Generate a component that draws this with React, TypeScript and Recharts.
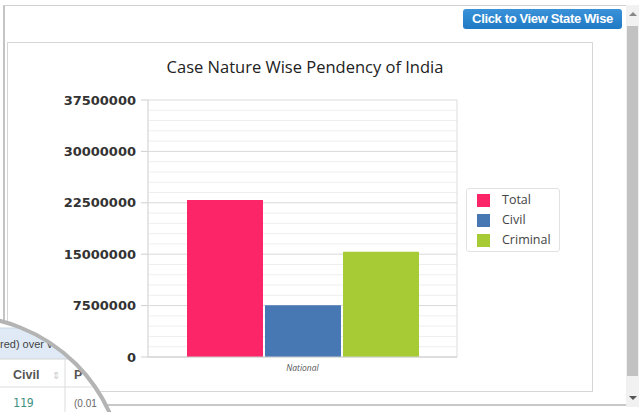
import React from 'react';
import { BarChart, Bar, XAxis, YAxis, CartesianGrid } from 'recharts';

const categories = ['National'];
const totalValues = [22900000];
const civilValues = [7550000];
const criminalValues = [15350000];
const yTicks = [0, 7500000, 15000000, 22500000, 30000000, 37500000];

const series = [
  { key: 'Total', color: '#fb2568', values: totalValues },
  { key: 'Civil', color: '#4878b4', values: civilValues },
  { key: 'Criminal', color: '#a6cb34', values: criminalValues },
];

const chartData = categories.map((name, i) => ({
  name,
  Total: totalValues[i],
  Civil: civilValues[i],
  Criminal: criminalValues[i],
}));

// light lines between the labelled ticks
const minorStep = 1500000;
const minorLines: number[] = [];
for (let v = minorStep; v < 37500000; v += minorStep) {
  if (v % 7500000 !== 0) minorLines.push(v);
}

const Magnifier = () => (
  <svg width={220} height={140} style={{ position: 'absolute', left: 0, top: 272 }}>
    <defs>
      <clipPath id="lens">
        <circle cx={-40} cy={208} r={164} />
      </clipPath>
    </defs>
    <g clipPath="url(#lens)">
      <rect x={0} y={0} width={220} height={140} fill="#fff" />
      <rect x={0} y={56} width={220} height={31} fill="#dfeaf6" />
      <line x1={0} y1={56} x2={220} y2={56} stroke="#c9d8e8" />
      <line x1={0} y1={87} x2={220} y2={87} stroke="#d4d4d4" />
      <line x1={0} y1={115} x2={220} y2={115} stroke="#dcdcdc" />
      <line x1={65} y1={87} x2={65} y2={140} stroke="#dcdcdc" />
      <text x={0} y={76} fontSize={11} fill="#444" fontFamily="Liberation Sans, Arial">red) over v</text>
      <text x={13} y={107} fontSize={12.5} fontWeight="bold" fill="#555" fontFamily="Liberation Sans, Arial">Civil</text>
      <text x={52} y={107} fontSize={10} fill="#ccc" fontFamily="Liberation Sans, Arial">⇕</text>
      <text x={74} y={107} fontSize={12.5} fontWeight="bold" fill="#555" fontFamily="Liberation Sans, Arial">P</text>
      <text x={13} y={135} fontSize={11.5} fill="#3f8f80" fontFamily="DejaVu Sans Mono, monospace">119</text>
      <text x={74} y={135} fontSize={10} fill="#666" fontFamily="Liberation Sans, Arial">(0.01</text>
    </g>
    <circle cx={-40} cy={208} r={164} fill="none" stroke="#b4b4b4" strokeWidth={4} />
  </svg>
);

export default function App() {
  return (
    <div
      style={{
        position: 'absolute',
        left: 0,
        top: 0,
        width: 639,
        height: 412,
        overflow: 'hidden',
        background: '#fff',
        fontFamily: '"Open Sans", sans-serif',
      }}
    >
      {/* outer frame */}
      <div style={{ position: 'absolute', left: 3, top: 5, width: 623, height: 401, borderLeft: '2px solid #c4c4c4', borderTop: '1px solid #d0d0d0', borderBottom: '2px solid #c8c8c8', boxSizing: 'border-box' }} />
      {/* scrollbar */}
      <div style={{ position: 'absolute', left: 626, top: 5, width: 13, height: 402, background: '#f1f1f1' }} />
      <div style={{ position: 'absolute', left: 627, top: 26, width: 11, height: 350, background: '#c2c2c2' }} />
      <div style={{ position: 'absolute', left: 629, top: 12, width: 0, height: 0, borderLeft: '4px solid transparent', borderRight: '4px solid transparent', borderBottom: '4px solid #888' }} />
      <div style={{ position: 'absolute', left: 629, top: 396, width: 0, height: 0, borderLeft: '4px solid transparent', borderRight: '4px solid transparent', borderTop: '4px solid #555' }} />

      {/* button */}
      <div
        style={{
          position: 'absolute',
          left: 463,
          top: 9,
          width: 159,
          height: 20,
          borderRadius: 3,
          background: 'linear-gradient(#3a93d9, #1f79c3)',
          color: '#fff',
          fontFamily: '"Liberation Sans", Arial, sans-serif',
          fontWeight: 'bold',
          fontSize: 13,
          letterSpacing: -0.35,
          lineHeight: '20px',
          textAlign: 'center',
        }}
      >
        Click to View State Wise
      </div>

      {/* chart panel */}
      <div style={{ position: 'absolute', left: 7, top: 42, width: 586, height: 350, border: '1px solid #d6d6d6', boxSizing: 'border-box' }} />
      <div style={{ position: 'absolute', left: 7, top: 55, width: 596, textAlign: 'center', fontSize: 16.5, color: '#222' }}>
        Case Nature Wise Pendency of India
      </div>

      <BarChart
        width={639}
        height={412}
        data={chartData}
        margin={{ top: 100, right: 182, bottom: 25, left: 48 }}
        barCategoryGap={39}
        barGap={2}
        style={{ position: 'absolute', left: 0, top: 0 }}
      >
        <CartesianGrid vertical={false} horizontalValues={minorLines} stroke="#eeeeee" />
        <CartesianGrid vertical={false} stroke="#d9d9d9" />
        <CartesianGrid horizontal={false} verticalPoints={[148, 457]} stroke="#dddddd" />
        <XAxis
          dataKey="name"
          height={30}
          tickLine={false}
          axisLine={{ stroke: '#cfcfcf' }}
          tick={{ fontSize: 8.5, fontStyle: 'italic', fill: '#555', fontFamily: '"Open Sans", sans-serif' }}
          tickMargin={2}
        />
        <YAxis
          width={100}
          domain={[0, 37500000]}
          ticks={yTicks}
          interval={0}
          axisLine={{ stroke: '#dddddd' }}
          tickLine={{ stroke: '#cfcfcf' }}
          tickSize={7}
          tickMargin={5}
          tick={{ fontSize: 13, fontWeight: 'bold', fill: '#333', fontFamily: '"DejaVu Sans", sans-serif' }}
        />
        {series.map((s) => (
          <Bar key={s.key} dataKey={s.key} fill={s.color} isAnimationActive={false} />
        ))}
      </BarChart>

      {/* legend */}
      <div
        style={{
          position: 'absolute',
          left: 466,
          top: 188,
          width: 94,
          height: 64,
          border: '1px solid #e2e2e2',
          borderRadius: 3,
          boxSizing: 'border-box',
          padding: '1px 0 0 10px',
        }}
      >
        {series.map((s) => (
          <div key={s.key} style={{ display: 'flex', alignItems: 'center', height: 20 }}>
            <span style={{ width: 13, height: 13, background: s.color, display: 'inline-block', marginRight: 12 }} />
            <span style={{ fontSize: 12.5, color: '#444', lineHeight: '20px' }}>{s.key}</span>
          </div>
        ))}
      </div>

      <Magnifier />
    </div>
  );
}
